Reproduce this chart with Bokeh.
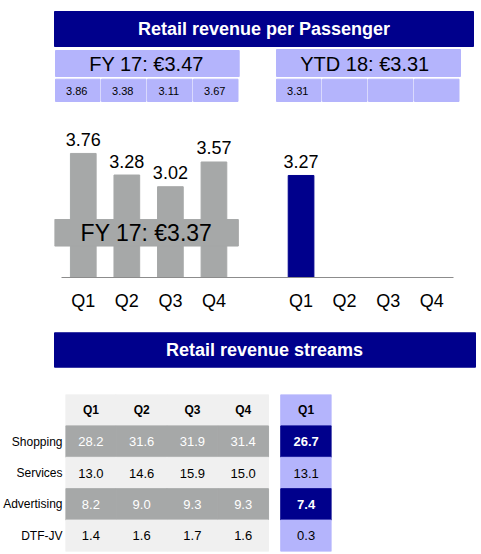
from bokeh.plotting import figure
from bokeh.models import Range1d, FactorRange, ColumnDataSource
from bokeh.layouts import column
from bokeh.embed import file_html
from bokeh.resources import INLINE
from bokeh.core.properties import value

# ---------------- data ----------------
quarters = ["Q1", "Q2", "Q3", "Q4"]
fy17_name = "FY 17"
ytd18_name = "YTD 18"
fy17_summary = 3.47
ytd18_summary = 3.31
fy17_summary_cells = [3.86, 3.38, 3.11, 3.67]
ytd18_summary_cells = [3.31, None, None, None]
fy17_bars = [3.76, 3.28, 3.02, 3.57]
ytd18_bars = [3.27]
fy17_bar_average = 3.37
streams = ["Shopping", "Services", "Advertising", "DTF-JV"]
shopping_fy17 = [28.2, 31.6, 31.9, 31.4]
services_fy17 = [13.0, 14.6, 15.9, 15.0]
advertising_fy17 = [8.2, 9.0, 9.3, 9.3]
dtf_jv_fy17 = [1.4, 1.6, 1.7, 1.6]
streams_ytd18_q1 = [26.7, 13.1, 7.4, 0.3]
title_top = "Retail revenue per Passenger"
title_bottom = "Retail revenue streams"

# ---------------- style ----------------
NAVY = "#00008c"
LILAC = "#b4b4fc"
GREY = "#a6a8a8"
LIGHT = "#f0f0f0"
FONT = "Liberation Sans"
W = 481


def deco_fig(height, top):
    p = figure(width=W, height=height, x_range=Range1d(0, W),
               y_range=Range1d(top + height, top), output_backend="svg",
               toolbar_location=None, x_axis_location=None, y_axis_location=None,
               min_border=0, outline_line_color=None, frame_align=False,
               background_fill_color="white", border_fill_color="white")
    p.grid.visible = False
    return p


def txt(p, x, y, s, size, color="black", style="normal", align="center", **kw):
    p.text(x=x, y=y, text=s, text_align=align, text_baseline="middle",
           text_color=color, text_font=value(FONT), text_font_style=style,
           text_font_size=size, **kw)


# ---------------- header figure ----------------
pa = deco_fig(108, 0)
pa.quad(left=[54], right=[473], top=[11], bottom=[46], color=NAVY)
txt(pa, [263.5], [28.5], [title_top], "18px", "white", "bold")

pa.quad(left=[55], right=[238.7], top=[50], bottom=[76], color=LILAC)
txt(pa, [146], [63.5], [f"{fy17_name}: \u20ac{fy17_summary:.2f}"], "20px")
pa.quad(left=[276], right=[460], top=[49], bottom=[76], color=LILAC)
txt(pa, [367], [63], [f"{ytd18_name}:  \u20ac{ytd18_summary:.2f}"], "20px")

pitch, cw = 46, 44.5
for start, vals in ((55, fy17_summary_cells), (276, ytd18_summary_cells)):
    lefts = [start + i * pitch for i in range(len(vals))]
    pa.quad(left=lefts, right=[l + cw for l in lefts], top=78.7, bottom=101, color=LILAC)
    xs = [l + cw / 2 - 1 for l, v in zip(lefts, vals) if v is not None]
    ts = [f"{v:.2f}" for v in vals if v is not None]
    txt(pa, xs, [90] * len(xs), ts, "11px")

# ---------------- bar figure ----------------
bar_factors = [("FY17", q) for q in quarters] + [("YTD18", q) for q in quarters]
pad = 7 / 43.56
xr = FactorRange(*bar_factors, group_padding=1.0, range_padding=pad,
                 range_padding_units="absolute")
y0 = 1.0
pb = figure(width=W, height=218, x_range=xr, y_range=Range1d(y0, 4.76),
            output_backend="svg", toolbar_location=None, y_axis_location=None,
            min_border_left=54, min_border_right=21, min_border_top=0,
            min_border_bottom=49, outline_line_color=None, frame_align=False,
            background_fill_color="white", border_fill_color="white")
pb.grid.visible = False

fy_src = ColumnDataSource(dict(x=bar_factors[:4], top=fy17_bars,
                               label=[f"{v:.2f}" for v in fy17_bars]))
ytd_src = ColumnDataSource(dict(x=bar_factors[4:4 + len(ytd18_bars)], top=ytd18_bars,
                                label=[f"{v:.2f}" for v in ytd18_bars]))
pb.vbar(x="x", top="top", bottom=y0, width=0.59, color=GREY, source=fy_src)
pb.vbar(x="x", top="top", bottom=y0, width=0.59, color=NAVY, source=ytd_src)
for src in (fy_src, ytd_src):
    pb.text(x="x", y="top", text="label", source=src, text_align="center",
            text_baseline="alphabetic", y_offset=-14, text_color="black",
            text_font=value(FONT), text_font_size="18px")

# FY 17 average band overlay
pb.quad(left=[-pad], right=[4.06], bottom=[1.70], top=[2.29], color=GREY)
txt(pb, [1.95], [2.0], [f"{fy17_name}: \u20ac{fy17_bar_average:.2f}"], "23px")

ax = pb.xaxis[0]
ax.bounds = (0, 9)
ax.axis_line_color = "#8c8c8c"
ax.axis_line_width = 1
ax.major_tick_line_color = None
ax.minor_tick_line_color = None
ax.major_label_standoff = 7
ax.major_label_text_font = FONT
ax.major_label_text_font_size = "18px"
ax.major_label_text_color = "black"
ax.group_text_font_size = "0px"
ax.group_text_color = None
ax.separator_line_color = None

# ---------------- second title ----------------
pc = deco_fig(64, 326)
pc.quad(left=[54], right=[475], top=[332.3], bottom=[366.7], color=NAVY)
txt(pc, [264], [349.5], [title_bottom], "18px", "white", "bold")

# ---------------- table figure ----------------
col_factors = [("FY17", q) for q in quarters] + [("YTD18", "Q1")]
header_row = " "
rows = [header_row] + streams
pd_ = figure(width=W, height=164,
             x_range=FactorRange(*col_factors, group_padding=0.24),
             y_range=FactorRange(*reversed(rows)),
             output_backend="svg", toolbar_location=None, x_axis_location=None,
             min_border_left=64, min_border_right=150, min_border_top=4,
             min_border_bottom=3, outline_line_color=None, frame_align=False,
             background_fill_color="white", border_fill_color="white")
pd_.grid.visible = False
yax = pd_.yaxis[0]
yax.axis_line_color = None
yax.major_tick_line_color = None
yax.minor_tick_line_color = None
yax.major_tick_out = 0
yax.major_tick_in = 0
yax.minor_tick_out = 0
yax.axis_label_standoff = 0
yax.major_label_standoff = 3
yax.major_label_text_font = FONT
yax.major_label_text_font_size = "12px"
yax.major_label_text_color = "black"

fy_table = [shopping_fy17, services_fy17, advertising_fy17, dtf_jv_fy17]
dark_rows = {"Shopping", "Advertising"}

cx, cy, cfill = [], [], []
for c in col_factors:
    cx.append(c); cy.append(header_row)
    cfill.append(LIGHT if c[0] == "FY17" else LILAC)
for r, name in enumerate(streams):
    dark = name in dark_rows
    for c in col_factors:
        cx.append(c); cy.append(name)
        if c[0] == "FY17":
            cfill.append(GREY if dark else LIGHT)
        else:
            cfill.append(NAVY if dark else LILAC)
pd_.rect(x="x", y="y", width=1, height=1, fill_color="f", line_color="f",
         line_width=1, source=ColumnDataSource(dict(x=cx, y=cy, f=cfill)))

# header labels
pd_.text(x=col_factors, y=[header_row] * len(col_factors), text=[c[1] for c in col_factors],
         text_align="center", text_baseline="middle", text_color="black",
         text_font=value(FONT), text_font_style="bold", text_font_size="12px")

for r, name in enumerate(streams):
    dark = name in dark_rows
    vals = fy_table[r]
    pd_.text(x=col_factors[:4], y=[name] * 4, text=[f"{v:.1f}" for v in vals],
             text_align="center", text_baseline="middle",
             text_color="white" if dark else "black",
             text_font=value(FONT), text_font_size="13px")
    pd_.text(x=[col_factors[4]], y=[name], text=[f"{streams_ytd18_q1[r]:.1f}"],
             text_align="center", text_baseline="middle",
             text_color="white" if dark else "black",
             text_font=value(FONT), text_font_style="bold" if dark else "normal",
             text_font_size="13px")

layout = column(pa, pb, pc, pd_)
open("out.html", "w").write(file_html(layout, INLINE))
